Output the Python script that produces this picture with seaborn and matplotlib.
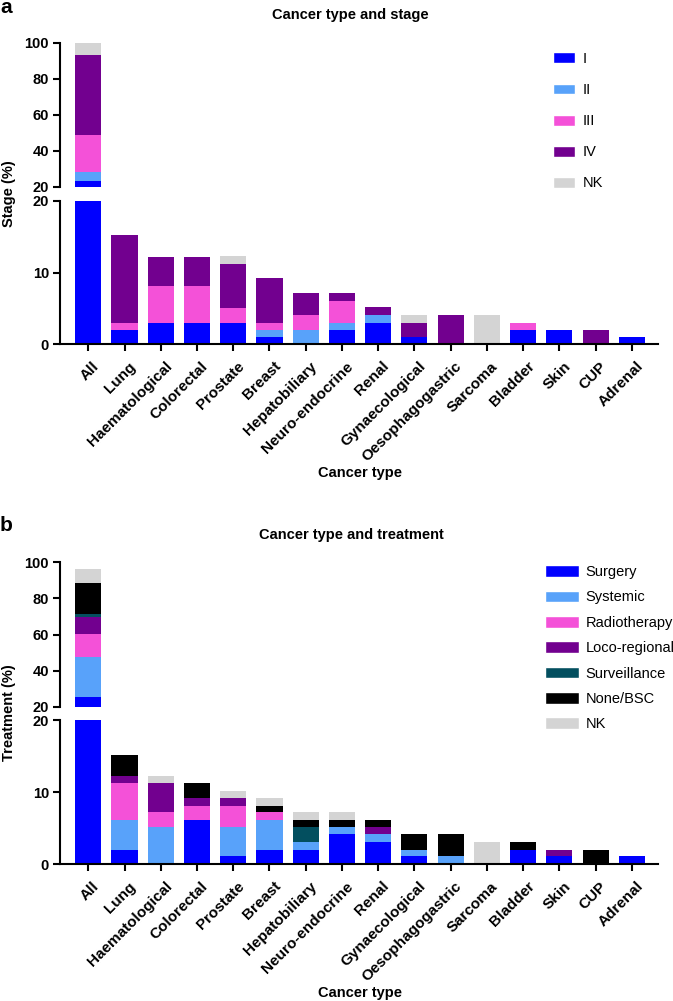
import numpy as np
import matplotlib
matplotlib.use('Agg')
import matplotlib.pyplot as plt
import matplotlib.transforms as mtrans
import seaborn as sns
from matplotlib.patches import Patch

sns.set_style('ticks')
plt.rcParams['font.family'] = ['Liberation Sans', 'DejaVu Sans']
plt.rcParams['text.color'] = 'black'
plt.rcParams['axes.edgecolor'] = 'black'
plt.rcParams['xtick.color'] = 'black'
plt.rcParams['ytick.color'] = 'black'

# Categories
cancer_types = ['All', 'Lung', 'Haematological', 'Colorectal', 'Prostate', 'Breast',
                'Hepatobiliary', 'Neuro-endocrine', 'Renal', 'Gynaecological',
                'Oesophagogastric', 'Sarcoma', 'Bladder', 'Skin', 'CUP', 'Adrenal']

# Panel a - stage (%)
stage_labels = ['I', 'II', 'III', 'IV', 'NK']
stage_I = [23.5, 2, 3, 3, 3, 1, 0, 2, 3, 1, 0, 0, 2, 2, 0, 1]
stage_II = [5, 0, 0, 0, 0, 1, 2, 1, 1.1, 0, 0, 0, 0, 0, 0, 0]
stage_III = [20.5, 1, 5.1, 5.1, 2.1, 1, 2.1, 3, 0, 0, 0, 0, 1, 0, 0, 0]
stage_IV = [44.5, 12.2, 4.1, 4.1, 6.1, 6.2, 3, 1.1, 1.1, 2, 4.1, 0, 0, 0, 2, 0]
stage_NK = [6.5, 0, 0, 0, 1.1, 0, 0, 0, 0, 1.1, 0, 4.1, 0, 0, 0, 0]

# Panel b - treatment (%)
treat_labels = ['Surgery', 'Systemic', 'Radiotherapy', 'Loco-regional',
                'Surveillance', 'None/BSC', 'NK']
treat_surgery = [25.5, 2, 0, 6.1, 1.1, 2, 2, 4.1, 3.1, 1.1, 0, 0, 2, 1.1, 0, 1.1]
treat_systemic = [22, 4.1, 5.2, 0, 4.1, 4.1, 1.1, 1.1, 1, 0.9, 1.1, 0, 0, 0, 0, 0]
treat_radio = [13, 5.1, 2, 2, 2.9, 1.1, 0, 0, 0, 0, 0, 0, 0, 0, 0, 0]
treat_loco = [9, 1, 4, 1.1, 1.1, 0, 0, 0, 1.1, 0, 0, 0, 0, 0.9, 0, 0]
treat_surv = [2, 0, 0, 0, 0, 0, 2.1, 0, 0, 0, 0, 0, 0, 0, 0, 0]
treat_none = [17, 3, 0, 2, 0, 0.9, 0.9, 0.9, 0.9, 2.1, 3, 0, 1.1, 0, 2, 0]
treat_nk = [7.5, 0, 1, 0, 0.9, 1.1, 1.1, 1.1, 0, 0, 0, 3.1, 0, 0, 0, 0]

stage_colors = ['#0000FF', '#58A2FA', '#F451D8', '#72008F', '#D4D4D4']
treat_colors = ['#0000FF', '#58A2FA', '#F451D8', '#72008F', '#034F5F', '#000000', '#D4D4D4']

W, H = 673, 1001
fig = plt.figure(figsize=(W / 100, H / 100), dpi=100)


def fx(px):
    return px / W


def fy(py):
    return 1 - py / H


def draw_stack(ax, layers, colors):
    cum = np.cumsum(np.array(layers, dtype=float), axis=0)
    for i in reversed(range(len(layers))):
        sns.barplot(x=cancer_types, y=cum[i], color=colors[i], saturation=1,
                    width=0.72, errorbar=None, linewidth=0, ax=ax)


def style_ax(ax, top):
    ax.set_xlim(-0.78, 15.72)
    ax.set_xlabel('')
    ax.set_ylabel('')
    for s in ['top', 'right']:
        ax.spines[s].set_visible(False)
    ax.spines['left'].set_linewidth(1.5)
    ax.spines['bottom'].set_linewidth(1.5)
    ax.tick_params(axis='y', length=5, width=1.5, pad=3, labelsize=10.5)
    for lab in ax.get_yticklabels():
        lab.set_fontweight('bold')
    if top:
        ax.spines['bottom'].set_visible(False)
        ax.tick_params(axis='x', bottom=False, labelbottom=False)
    else:
        ax.tick_params(axis='x', length=5, width=1.5, pad=4.5)
        ax.set_xticks(range(len(cancer_types)))
        ax.set_xticklabels(cancer_types, rotation=45, ha='right', va='top',
                           rotation_mode='anchor', fontsize=11, fontweight='bold')
        shift = mtrans.ScaledTranslation(4 / 100, -2 / 100, fig.dpi_scale_trans)
        for lab in ax.get_xticklabels():
            lab.set_transform(lab.get_transform() + shift)


def panel(y_top100, y_top20, y_bot20, y_bot0, layers, colors):
    ax_t = fig.add_axes([fx(60), fy(y_top20), fx(598), (y_top20 - y_top100) / H])
    ax_b = fig.add_axes([fx(60), fy(y_bot0), fx(598), (y_bot0 - y_bot20) / H])
    draw_stack(ax_t, layers, colors)
    draw_stack(ax_b, layers, colors)
    ax_t.set_ylim(20, 100)
    ax_t.set_yticks([20, 40, 60, 80, 100])
    ax_b.set_ylim(0, 20)
    ax_b.set_yticks([0, 10, 20])
    style_ax(ax_t, True)
    style_ax(ax_b, False)
    return ax_t, ax_b


# Panel a
panel(43, 187, 201, 344, [stage_I, stage_II, stage_III, stage_IV, stage_NK], stage_colors)
fig.text(fx(350), fy(15), 'Cancer type and stage', ha='center', va='center',
         fontsize=10.5, fontweight='bold')
fig.text(fx(360), fy(473), 'Cancer type', ha='center', va='center',
         fontsize=10.5, fontweight='bold')
fig.text(fx(9), fy(194), 'Stage (%)', rotation=90, ha='center', va='center',
         fontsize=10.5, fontweight='bold')
fig.text(fx(0), fy(-2), 'a', ha='left', va='top', fontsize=15, fontweight='bold')
fig.legend(handles=[Patch(facecolor=c, label=l) for c, l in zip(stage_colors, stage_labels)],
           loc='upper left', bbox_to_anchor=(fx(553), fy(52)), frameon=False,
           borderpad=0, borderaxespad=0, fontsize=10.5, handlelength=1.5,
           handleheight=0.78, handletextpad=0.55, labelspacing=1.17)

# Panel b
panel(562, 707, 720, 864,
      [treat_surgery, treat_systemic, treat_radio, treat_loco, treat_surv, treat_none, treat_nk],
      treat_colors)
fig.text(fx(351), fy(535), 'Cancer type and treatment', ha='center', va='center',
         fontsize=10.5, fontweight='bold')
fig.text(fx(360), fy(993), 'Cancer type', ha='center', va='center',
         fontsize=10.5, fontweight='bold')
fig.text(fx(9), fy(713), 'Treatment (%)', rotation=90, ha='center', va='center',
         fontsize=10.5, fontweight='bold')
fig.text(fx(0), fy(516), 'b', ha='left', va='top', fontsize=15, fontweight='bold')
fig.legend(handles=[Patch(facecolor=c, label=l) for c, l in zip(treat_colors, treat_labels)],
           loc='upper left', bbox_to_anchor=(fx(545), fy(565)), frameon=False,
           borderpad=0, borderaxespad=0, fontsize=10.5, handlelength=2.3,
           handleheight=0.85, handletextpad=0.5, labelspacing=0.78)

fig.savefig('out.png', dpi=100)
